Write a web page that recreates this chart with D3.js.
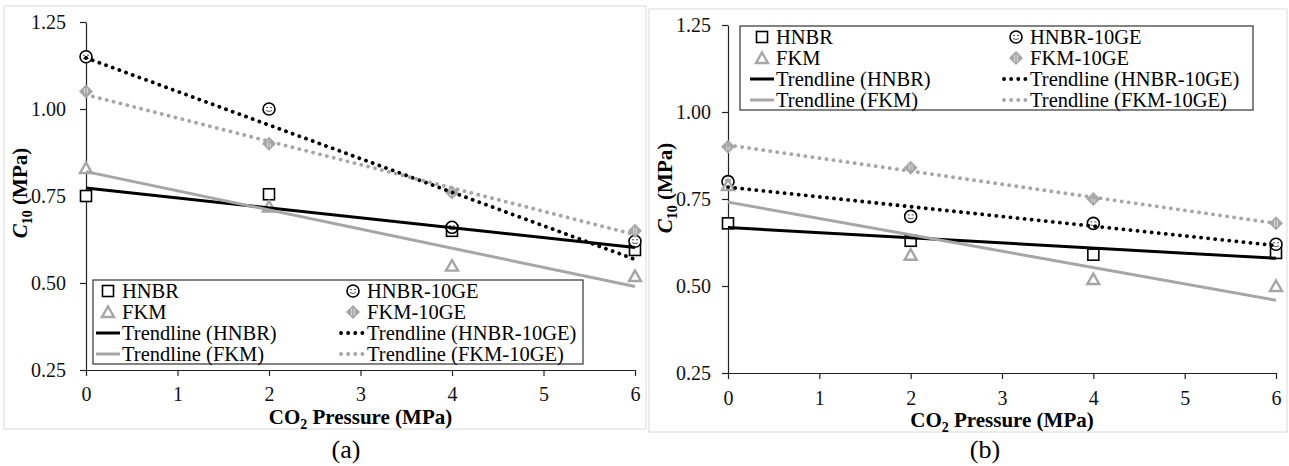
<!DOCTYPE html>
<html>
<head>
<meta charset="utf-8">
<script src="https://cdn.jsdelivr.net/npm/d3@7"></script>
<style>
	body { margin: 0; background: white; }
	svg text { font-family: 'Liberation Serif', 'Times New Roman', 'DejaVu Serif', serif; }
</style>
</head>
<body>
<script>
// x values (CO2 pressure, MPa)
const pressure = [0, 2, 4, 6]
const xTicks = [0, 1, 2, 3, 4, 5, 6]
const yTicks = [0.25, 0.50, 0.75, 1.00, 1.25]

// panel (a)
const hnbrA = [0.75, 0.755, 0.65, 0.595]
const hnbr10geA = [1.15, 1.00, 0.66, 0.62]
const fkmA = [0.83, 0.72, 0.55, 0.52]
const fkm10geA = [1.05, 0.90, 0.76, 0.65]

// panel (b)
const hnbrB = [0.68, 0.63, 0.59, 0.595]
const hnbr10geB = [0.80, 0.70, 0.68, 0.62]
const fkmB = [0.79, 0.59, 0.52, 0.50]
const fkm10geB = [0.90, 0.84, 0.75, 0.68]

const seriesNames = ['HNBR', 'HNBR-10GE', 'FKM', 'FKM-10GE']
const panelLabels = ['(a)', '(b)']

const gray = '#a6a6a6'
const serif = "'Liberation Serif', 'Times New Roman', serif"

let svg = d3.select('body').append('svg')
	.attr('width', 1289).attr('height', 466)

// least squares fit, same as the excel linear trendline
function fit(xs, ys) {
	let mx = d3.mean(xs), my = d3.mean(ys)
	let num = 0, den = 0
	for (let i = 0; i < xs.length; i++) {
		num += (xs[i] - mx) * (ys[i] - my)
		den += (xs[i] - mx) * (xs[i] - mx)
	}
	let b = num / den
	return x => my + b * (x - mx)
}

function drawMarker(g, kind, cx, cy) {
	let m = g.append('g').attr('transform', `translate(${cx},${cy})`)
	if (kind == 'square') {
		m.append('rect')
			.attr('x', -5.5).attr('y', -5.5).attr('width', 11).attr('height', 11)
			.style('fill', 'white').style('stroke', 'black').style('stroke-width', 1.6)
	}
	else if (kind == 'circle') {
		m.append('circle').attr('r', 6)
			.style('fill', 'white').style('stroke', 'black').style('stroke-width', 1.6)
		m.append('path').attr('d', 'M-3,-1.5 L-1,-1.5 M1,-1.5 L3,-1.5 M-3,1.5 Q0,3.5 3,1.5')
			.style('fill', 'none').style('stroke', '#555').style('stroke-width', 1)
	}
	else if (kind == 'triangle') {
		m.append('path').attr('d', 'M0,-5.5 L6,5 L-6,5 Z')
			.style('fill', 'white').style('stroke', gray).style('stroke-width', 2.4)
	}
	else if (kind == 'diamond') {
		m.append('path').attr('d', 'M0,-7 L7,0 L0,7 L-7,0 Z')
			.style('fill', gray)
		m.append('path').attr('d', 'M-1.3,-3.5 L-1.3,3.5 M1.3,-3.5 L1.3,3.5')
			.style('stroke', '#e6e6e6').style('stroke-width', 0.9)
	}
}

function lineStyle(sel, color, dotted) {
	sel.style('fill', 'none').style('stroke', color)
	if (dotted) {
		sel.style('stroke-width', 3.8).style('stroke-linecap', 'round')
			.style('stroke-dasharray', '0.1 7')
	} else {
		sel.style('stroke-width', 3)
	}
}

function drawPanel(p) {
	let {frame, x0, x1, yTop, yBot, data, legend, tickPadY, tickPadX, yTitle, label} = p

	svg.append('rect')
		.attr('x', frame[0]).attr('y', frame[1])
		.attr('width', frame[2] - frame[0]).attr('height', frame[3] - frame[1])
		.style('fill', 'none').style('stroke', '#d9d9d9').style('stroke-width', 1)

	let x = d3.scaleLinear().domain([0, 6]).range([x0, x1])
	let y = d3.scaleLinear().domain([0.25, 1.25]).range([yBot, yTop])

	let xAxis = svg.append('g')
		.attr('transform', `translate(0,${yBot})`)
		.call(d3.axisBottom(x).tickValues(xTicks).tickFormat(d3.format('d'))
			.tickSize(6).tickSizeOuter(0).tickPadding(tickPadX))
	let yAxis = svg.append('g')
		.attr('transform', `translate(${x0},0)`)
		.call(d3.axisLeft(y).tickValues(yTicks).tickFormat(d3.format('.2f'))
			.tickSize(6).tickSizeOuter(0).tickPadding(tickPadY))
	for (let ax of [xAxis, yAxis]) {
		ax.attr('font-family', serif)
		ax.select('.domain').style('stroke', '#222').style('stroke-width', 1.2)
		ax.selectAll('.tick line').style('stroke', '#222').style('stroke-width', 1.2)
		ax.selectAll('.tick text')
			.style('font-family', serif).style('font-size', '20px').style('fill', '#111')
	}

	// axis titles
	let xt = svg.append('text')
		.attr('x', (x0 + x1) / 2).attr('y', yBot + 54)
		.attr('text-anchor', 'middle')
		.style('font-family', serif).style('font-size', '21px').style('font-weight', 'bold')
	xt.append('tspan').text('CO')
	xt.append('tspan').text('2').style('font-size', '14px').attr('dy', 5)
	xt.append('tspan').text(' Pressure (MPa)').attr('dy', -5)

	let yt = svg.append('text')
		.attr('transform', `translate(${yTitle[0]},${yTitle[1]}) rotate(-90)`)
		.attr('text-anchor', 'middle')
		.style('font-family', serif).style('font-size', '21px').style('font-weight', 'bold')
	yt.append('tspan').text('C').style('font-style', 'italic')
	yt.append('tspan').text('10').style('font-size', '14px').attr('dy', 5)
	yt.append('tspan').text(' (MPa)').attr('dy', -5)

	svg.append('text')
		.attr('x', label[0]).attr('y', label[1])
		.attr('text-anchor', 'middle')
		.style('font-family', serif).style('font-size', '26px')
		.text(label[2])

	let kinds = ['square', 'circle', 'triangle', 'diamond']
	let colors = ['black', 'black', gray, gray]
	let dotted = [false, true, false, true]

	// markers
	let plot = svg.append('g')
	data.forEach((vals, s) => {
		vals.forEach((v, i) => drawMarker(plot, kinds[s], x(pressure[i]), y(v)))
	})

	// trendlines
	data.forEach((vals, s) => {
		let f = fit(pressure, vals)
		plot.append('path')
			.attr('d', d3.line()([[x(0), y(f(0))], [x(6), y(f(6))]]))
			.call(lineStyle, colors[s], dotted[s])
	})

	// legend
	let lg = svg.append('g')
	lg.append('rect')
		.attr('x', legend.x).attr('y', legend.y).attr('width', legend.w).attr('height', legend.h)
		.style('fill', 'white').style('stroke', '#333').style('stroke-width', 1.2)
	let rowY = d => legend.y + 11 + d * 21
	// order of legend entries: HNBR, HNBR-10GE / FKM, FKM-10GE / trendlines
	let entries = [
		{col: 0, row: 0, s: 0, mark: true, text: seriesNames[0]},
		{col: 1, row: 0, s: 1, mark: true, text: seriesNames[1]},
		{col: 0, row: 1, s: 2, mark: true, text: seriesNames[2]},
		{col: 1, row: 1, s: 3, mark: true, text: seriesNames[3]},
		{col: 0, row: 2, s: 0, mark: false, text: `Trendline (${seriesNames[0]})`},
		{col: 1, row: 2, s: 1, mark: false, text: `Trendline (${seriesNames[1]})`},
		{col: 0, row: 3, s: 2, mark: false, text: `Trendline (${seriesNames[2]})`},
		{col: 1, row: 3, s: 3, mark: false, text: `Trendline (${seriesNames[3]})`}
	]
	for (let e of entries) {
		let cx = legend.cols[e.col]
		let cy = rowY(e.row)
		if (e.mark) {
			drawMarker(lg, kinds[e.s], cx, cy)
		} else {
			lg.append('path')
				.attr('d', d3.line()([[cx - 12, cy], [cx + 12, cy]]))
				.call(lineStyle, colors[e.s], dotted[e.s])
		}
		lg.append('text')
			.attr('x', cx + 14).attr('y', cy + 7)
			.style('font-family', serif).style('font-size', '20.5px')
			.text(e.text)
	}
}

drawPanel({
	frame: [4, 6, 646, 429],
	x0: 86, x1: 635, yTop: 22, yBot: 370,
	data: [hnbrA, hnbr10geA, fkmA, fkm10geA],
	legend: {x: 93, y: 280, w: 490, h: 84, cols: [108, 353]},
	tickPadY: 14, tickPadX: 11,
	yTitle: [27, 193],
	label: [346, 458, panelLabels[0]]
})

drawPanel({
	frame: [649, 9, 1287, 432],
	x0: 728, x1: 1276, yTop: 25, yBot: 373,
	data: [hnbrB, hnbr10geB, fkmB, fkm10geB],
	legend: {x: 740, y: 26, w: 513, h: 84, cols: [762, 1016]},
	tickPadY: 11, tickPadX: 12,
	yTitle: [672, 188],
	label: [985, 458, panelLabels[1]]
})
</script>
</body>
</html>
